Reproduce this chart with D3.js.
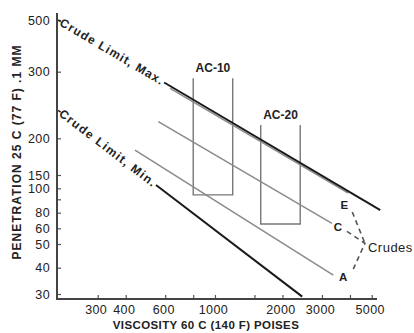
<!DOCTYPE html>
<html lang="en">
<head>
<meta charset="utf-8">
<title>Penetration vs viscosity</title>
<script src="https://cdnjs.cloudflare.com/ajax/libs/d3/7.8.5/d3.min.js"></script>
<style>
  body { margin: 0; background: #fff; }
  svg { display: block; font-family: "Liberation Sans", Arial, sans-serif; }
</style>
</head>
<body>
<script>
// ---- data ----
var viscosityTicks  = [300, 400, 600, 800, 1000, 1500, 2000, 3000, 4000, 5000];
var viscosityLabels = ["300", "400", "600", "", "1000", "", "2000", "3000", "", "5000"];
var penetrationTicks  = [500, 300, 200, 150, 100, 90, 80, 60, 50, 40, 30];
var penetrationLabels = ["500", "300", "200", "150", "100", "", "80", "60", "50", "40", "30"];

var limitNames = ["Crude Limit, Max.", "Crude Limit, Min."];
var limitVisc  = [[200, 5460], [200, 2450]];
var limitPen   = [[500, 82], [242, 29]];

var crudeNames = ["E", "C", "A"];
var crudeVisc  = [[631, 3931], [559, 3324], [440, 3370]];
var crudePen   = [[275, 95.7], [225, 66.4], [184, 37.2]];

var gradeNames = ["AC-10", "AC-20"];
var gradeVisc  = [[800, 1200], [1600, 2400]];
var gradePen   = [[290, 94], [220, 65.5]];

// ---- layout ----
var w = 414, h = 333;
var axisX = 57, axisY = 299, axisTop = 13, axisRight = 377;

var svg = d3.select("body").append("svg")
    .attr("width", w)
    .attr("height", h);

svg.append("rect").attr("width", w).attr("height", h).attr("fill", "#fff");

// log scale for viscosity
var x = d3.scaleLog()
    .domain([300, 5000])
    .range([97.7, 371.7]);

// the printed penetration scale is irregular, so follow the printed tick spacing
var y = d3.scaleLinear()
    .domain(penetrationTicks)
    .range([20, 71.7, 138.3, 175, 188.3, 199.3, 212.7, 228.3, 244, 267.7, 294]);

// axes
var yAxis = d3.axisLeft(y)
    .tickValues(penetrationTicks)
    .tickSize(-4)
    .tickPadding(7)
    .tickFormat(function(d, i) { return penetrationLabels[i]; });

var xAxis = d3.axisBottom(x)
    .tickValues(viscosityTicks)
    .tickSize(-4)
    .tickPadding(6)
    .tickFormat(function(d, i) { return viscosityLabels[i]; });

var gy = svg.append("g").attr("transform", "translate(" + axisX + ",0)").call(yAxis);
var gx = svg.append("g").attr("transform", "translate(0," + axisY + ")").call(xAxis);

[gx, gy].forEach(function(g) {
    g.select(".domain").remove();
    g.selectAll(".tick line").attr("stroke", "#555").attr("stroke-width", 1.2);
    g.selectAll(".tick text")
        .attr("fill", "#222")
        .style("font-size", "12.5px")
        .style("letter-spacing", "0.4px");
});
gx.selectAll(".tick text").attr("dx", -2);

svg.append("line")
    .attr("x1", axisX).attr("x2", axisX)
    .attr("y1", axisTop).attr("y2", axisY + 1)
    .attr("stroke", "#444").attr("stroke-width", 2);
svg.append("line")
    .attr("x1", axisX).attr("x2", axisRight)
    .attr("y1", axisY).attr("y2", axisY)
    .attr("stroke", "#444").attr("stroke-width", 2);

// axis titles
svg.append("text")
    .attr("x", 206).attr("y", 329)
    .attr("text-anchor", "middle")
    .attr("fill", "#222")
    .style("font-size", "11.5px")
    .style("font-weight", "bold")
    .style("letter-spacing", "0.4px")
    .text("VISCOSITY 60 C (140 F) POISES");

svg.append("text")
    .attr("transform", "translate(21,152) rotate(-90)")
    .attr("text-anchor", "middle")
    .attr("fill", "#222")
    .style("font-size", "12px")
    .style("font-weight", "bold")
    .style("letter-spacing", "1px")
    .text("PENETRATION 25 C (77 F) .1 MM");

// AC grade boxes (open at the top)
gradeNames.forEach(function(name, i) {
    var x0 = x(gradeVisc[i][0]), x1 = x(gradeVisc[i][1]);
    var yT = y(gradePen[i][0]), yB = y(gradePen[i][1]);
    svg.append("path")
        .attr("d", "M" + x0 + "," + yT + "V" + yB + "H" + x1 + "V" + yT)
        .attr("fill", "none")
        .attr("stroke", "#777")
        .attr("stroke-width", 1.4);
    svg.append("text")
        .attr("x", (x0 + x1) / 2).attr("y", yT - 6)
        .attr("text-anchor", "middle")
        .attr("fill", "#222")
        .style("font-size", "12px")
        .style("font-weight", "bold")
        .text(name);
});

// crude lines
crudeNames.forEach(function(name, i) {
    svg.append("line")
        .attr("x1", x(crudeVisc[i][0])).attr("y1", y(crudePen[i][0]))
        .attr("x2", x(crudeVisc[i][1])).attr("y2", y(crudePen[i][1]))
        .attr("stroke", "#8a8a8a")
        .attr("stroke-width", 1.5);
});

// crude labels, offsets from each line end
var crudeLabelOffset = [[-4, 12], [6, 4], [10, 2]];
var labelPts = [];
crudeNames.forEach(function(name, i) {
    var lx = x(crudeVisc[i][1]) + crudeLabelOffset[i][0];
    var ly = y(crudePen[i][1]) + crudeLabelOffset[i][1];
    labelPts.push([lx, ly]);
    svg.append("text")
        .attr("x", lx).attr("y", ly)
        .attr("text-anchor", "middle")
        .attr("dominant-baseline", "central")
        .attr("fill", "#222")
        .style("font-size", "11.5px")
        .style("font-weight", "bold")
        .text(name);
});

// dashed brace joining the crude labels
var nib = [labelPts[1][0] + 27, labelPts[1][1] + 16];
var brace = "M" + (labelPts[0][0] + 8) + "," + (labelPts[0][1] + 7) + "L" + nib[0] + "," + nib[1] +
            "M" + (labelPts[1][0] + 9) + "," + (labelPts[1][1] + 4) + "L" + nib[0] + "," + nib[1] +
            "L" + (labelPts[2][0] + 10) + "," + (labelPts[2][1] - 8);
svg.append("path")
    .attr("d", brace)
    .attr("fill", "none")
    .attr("stroke", "#555")
    .attr("stroke-width", 1.6)
    .attr("stroke-dasharray", "5,4");

svg.append("text")
    .attr("x", nib[0] + 3).attr("y", nib[1] + 9)
    .attr("fill", "#222")
    .style("font-size", "13px")
    .style("letter-spacing", "0.5px")
    .text("Crudes");

// crude limit lines, label written along the line
limitNames.forEach(function(name, i) {
    var p0 = [x(limitVisc[i][0]), y(limitPen[i][0])];
    var p1 = [x(limitVisc[i][1]), y(limitPen[i][1])];
    var dx = p1[0] - p0[0], dy = p1[1] - p0[1];
    var len = Math.sqrt(dx * dx + dy * dy);
    var ux = dx / len, uy = dy / len;
    var ang = Math.atan2(dy, dx) * 180 / Math.PI;

    svg.append("text")
        .attr("transform", "translate(" + (p0[0] + 3 * ux) + "," + (p0[1] + 3 * uy) + ") rotate(" + ang + ")")
        .attr("dominant-baseline", "central")
        .attr("fill", "#222")
        .style("font-size", "12px")
        .style("font-weight", "bold")
        .attr("textLength", 118)
        .attr("lengthAdjust", "spacing")
        .text(name);
    var tl = 118 + 5;

    svg.append("line")
        .attr("x1", p0[0]).attr("y1", p0[1])
        .attr("x2", p0[0] + 3 * ux).attr("y2", p0[1] + 3 * uy)
        .attr("stroke", "#222").attr("stroke-width", 1.5);
    svg.append("line")
        .attr("x1", p0[0] + tl * ux).attr("y1", p0[1] + tl * uy)
        .attr("x2", p1[0]).attr("y2", p1[1])
        .attr("stroke", "#1a1a1a")
        .attr("stroke-width", 2);
});
</script>
</body>
</html>
